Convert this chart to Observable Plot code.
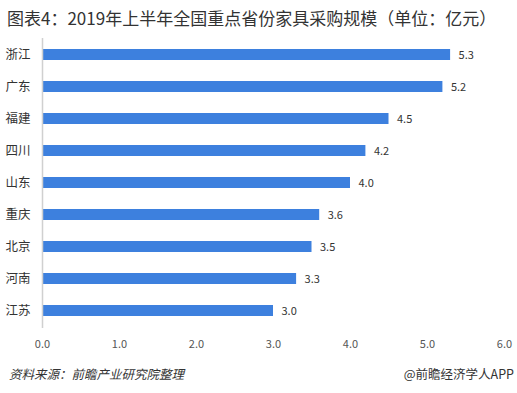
<!DOCTYPE html>
<html><head><meta charset="utf-8">
<script src="https://cdn.jsdelivr.net/npm/d3@7"></script>
<script src="https://cdn.jsdelivr.net/npm/@observablehq/plot@0.6"></script>
<style>
body{margin:0;background:#fff;font-family:"Noto Sans CJK SC","Noto Sans",sans-serif;}
#wrap{position:relative;width:517px;height:393px;overflow:hidden;}
#title{position:absolute;left:7px;top:6px;font-size:17px;color:#333;white-space:nowrap;line-height:24px;}
#chart{position:absolute;left:0;top:36px;}
#src{position:absolute;left:9px;top:364px;font-size:12.5px;font-style:italic;color:#333;white-space:nowrap;}
#app{position:absolute;right:3px;top:364px;font-size:12.5px;color:#333;white-space:nowrap;}
</style></head>
<body><div id="wrap">
<div id="title">图表4：2019年上半年全国重点省份家具采购规模（单位：亿元）</div>
<div id="chart"></div>
<div id="src">资料来源：前瞻产业研究院整理</div>
<div id="app">@前瞻经济学人APP</div>
</div>
<script>
const provinces = ["浙江","广东","福建","四川","山东","重庆","北京","河南","江苏"];
const values = [5.3,5.2,4.5,4.2,4.0,3.6,3.5,3.3,3.0];
const xTicks = [0,1,2,3,4,5,6];
const data = provinces.map((p,i)=>({p, v: values[i]}));
const chart = Plot.plot({
  width: 517, height: 322,
  marginLeft: 42, marginRight: 13, marginTop: 2, marginBottom: 30,
  style: {fontFamily: '"Noto Sans CJK SC","Noto Sans",sans-serif', background: "#fff"},
  x: {domain: [0,6], ticks: xTicks, tickFormat: d => d.toFixed(1), tickSize: 0, tickPadding: 12, label: null},
  y: {domain: provinces, paddingInner: 0.65, paddingOuter: 0.325, tickSize: 0, tickPadding: 12, label: null},
  marks: [
    Plot.barX(data, {x: "v", y: "p", fill: "#3d80de"}),
    Plot.ruleX([0], {stroke: "#d0d0d0", strokeWidth: 1.5}),
    Plot.text(data, {x: "v", y: "p", text: d => d.v.toFixed(1), dx: 8, textAnchor: "start", fill: "#333", fontSize: 11}),
    Plot.axisX({ticks: xTicks, tickFormat: d => d.toFixed(1), tickSize: 0, tickPadding: 12, fontSize: 11, color: "#555", label: null}),
    Plot.axisY({tickSize: 0, tickPadding: 12, fontSize: 12.5, color: "#333", label: null})
  ]
});
document.getElementById("chart").appendChild(chart);
</script>
</body></html>
